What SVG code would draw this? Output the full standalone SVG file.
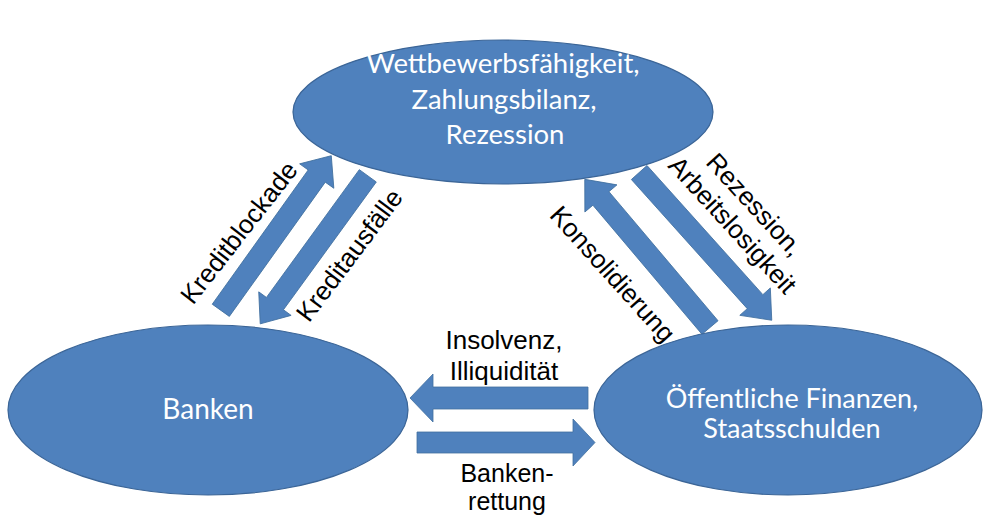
<svg xmlns="http://www.w3.org/2000/svg" width="983" height="518" viewBox="0 0 983 518">
<style>
.node{fill:#4F81BD;stroke:#3B6597;stroke-width:1.2}
.arr{fill:#4F81BD;stroke:#41709F;stroke-width:0.8}
.nt{font-family:Lato,"Open Sans",sans-serif;fill:#FFFFFF;text-anchor:middle}
.lb{font-family:"Liberation Sans",Arial,sans-serif;font-size:26px;fill:#000000;text-anchor:middle}
</style>
<rect width="983" height="518" fill="#FFFFFF"/>
<g id="connectors">
  <polygon class="arr" transform="translate(220.8,310.3) rotate(-54.45)" points="0,-10.5 165,-10.5 165,-21 190,0 165,21 165,10.5 0,10.5"/>
  <polygon class="arr" transform="translate(367.8,175.8) rotate(126)" points="0,-10.5 158,-10.5 158,-20 183,0 158,20 158,10.5 0,10.5"/>
  <polygon class="arr" transform="translate(639.2,172.5) rotate(48.1)" points="0,-10.5 173.5,-10.5 173.5,-20.5 198.5,0 173.5,20.5 173.5,10.5 0,10.5"/>
  <polygon class="arr" transform="translate(710,327.5) rotate(-130.2)" points="0,-10.5 169,-10.5 169,-21 194,0 169,21 169,10.5 0,10.5"/>
  <polygon class="arr" transform="translate(588,398) rotate(180)" points="0,-11 155,-11 155,-24 178,0 155,24 155,11 0,11"/>
  <polygon class="arr" transform="translate(417,442.5)" points="0,-10.5 156,-10.5 156,-23.5 178,0 156,23.5 156,10.5 0,10.5"/>
  <text class="lb" transform="translate(246,238) rotate(-52)">Kreditblockade</text>
  <text class="lb" transform="translate(356.5,260.7) rotate(-53)">Kreditausfälle</text>
  <g transform="translate(726,231) rotate(47.5)">
    <text class="lb" x="0" y="-30">Rezession,</text>
    <text class="lb" x="0" y="0">Arbeitslosigkeit</text>
  </g>
  <text class="lb" transform="translate(606,280) rotate(48)">Konsolidierung</text>
  <text class="lb" x="504" y="349">Insolvenz,</text>
  <text class="lb" x="504" y="380">Illiquidität</text>
  <text class="lb" font-size="25" style="font-size:25px" x="507" y="482">Banken-</text>
  <text class="lb" font-size="25" style="font-size:25px" x="507" y="510">rettung</text>
</g>
<g id="node-top">
  <ellipse class="node" cx="503" cy="112" rx="210" ry="72"/>
  <text class="nt" font-size="27.5" x="503" y="73">Wettbewerbsfähigkeit,</text>
  <text class="nt" font-size="27.5" x="504" y="109">Zahlungsbilanz,</text>
  <text class="nt" font-size="27.5" x="505" y="144">Rezession</text>
</g>
<g id="node-banken">
  <ellipse class="node" cx="208" cy="410" rx="200" ry="85"/>
  <text class="nt" font-size="28" x="208" y="419">Banken</text>
</g>
<g id="node-finanzen">
  <ellipse class="node" cx="788" cy="410" rx="194" ry="85"/>
  <text class="nt" font-size="27" x="792" y="408">Öffentliche Finanzen,</text>
  <text class="nt" font-size="27" x="792" y="438">Staatsschulden</text>
</g>
</svg>
